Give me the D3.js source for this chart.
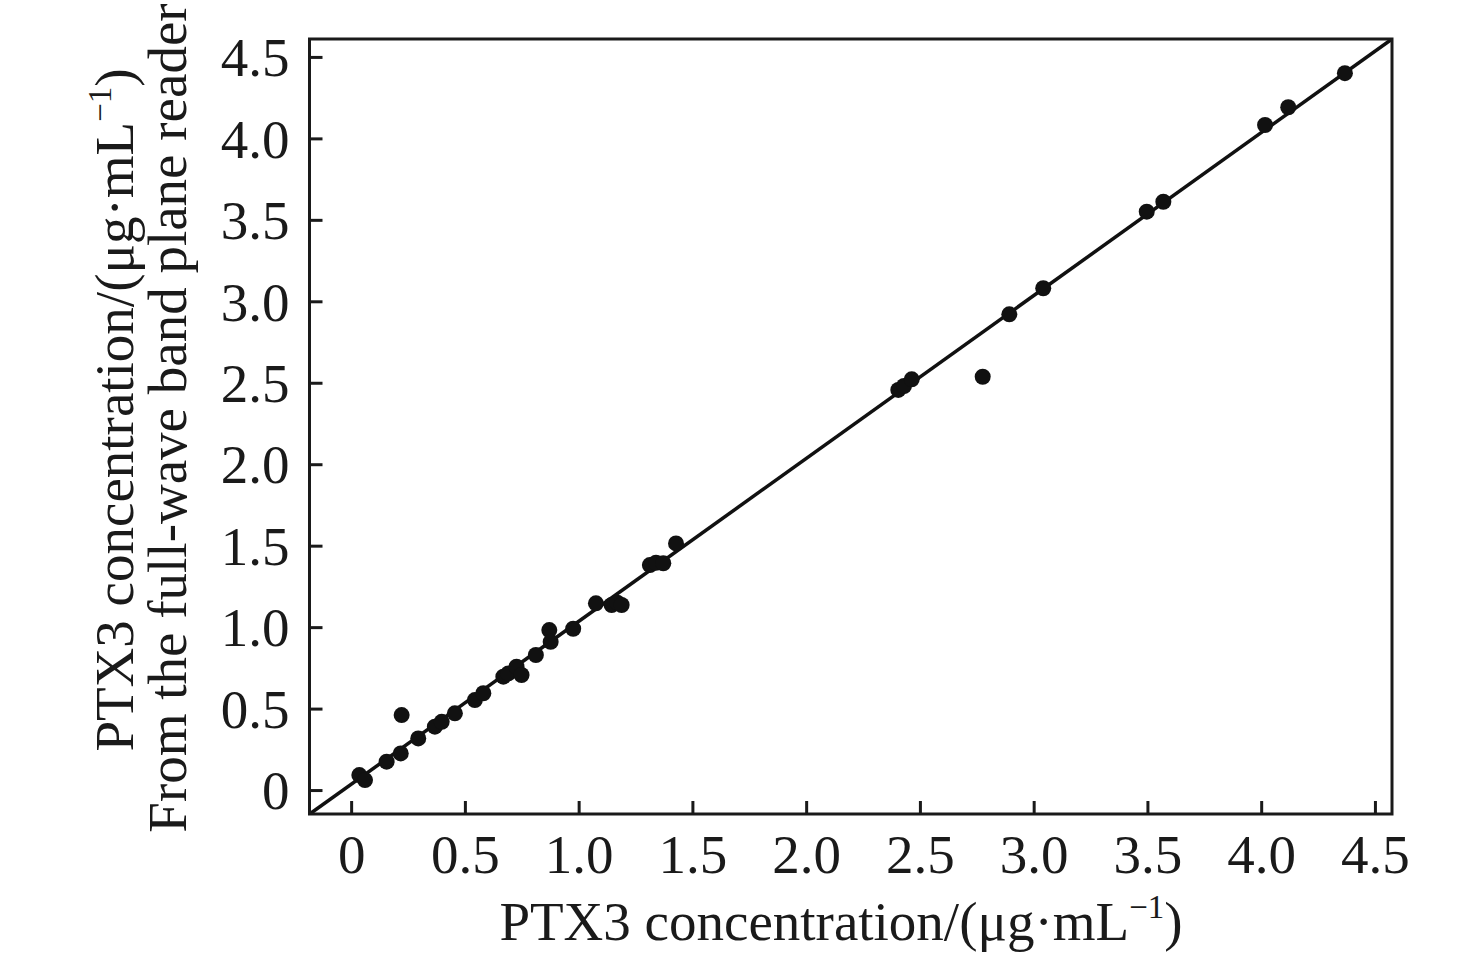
<!DOCTYPE html>
<html>
<head>
<meta charset="utf-8">
<script src="https://cdn.jsdelivr.net/npm/d3@7/dist/d3.min.js"></script>
<style>
  html, body { margin: 0; padding: 0; background: #fff; }
  svg { display: block; }
  text { font-family: "Liberation Serif", "Times New Roman", Times, serif; fill: #1a1a1a; }
</style>
</head>
<body>
<svg id="chart" width="1476" height="955"></svg>
<script>
// ---- data ----
const xValues = [0.036, 0.061, 0.156, 0.218, 0.222, 0.295, 0.368, 0.398, 0.456, 0.544,
                 0.581, 0.669, 0.691, 0.727, 0.749, 0.812, 0.871, 0.877, 0.976, 1.076,
                 1.145, 1.170, 1.189, 1.313, 1.340, 1.372, 1.428, 2.405, 2.430, 2.464,
                 2.776, 2.893, 3.042, 3.497, 3.570, 4.017, 4.119, 4.368];
const yValues = [0.092, 0.061, 0.174, 0.225, 0.460, 0.317, 0.389, 0.419, 0.471, 0.552,
                 0.594, 0.696, 0.716, 0.757, 0.706, 0.829, 0.982, 0.910, 0.990, 1.146,
                 1.136, 1.150, 1.136, 1.381, 1.395, 1.392, 1.514, 2.456, 2.480, 2.521,
                 2.537, 2.920, 3.080, 3.550, 3.611, 4.082, 4.191, 4.400];
const xTicks = [0, 0.5, 1.0, 1.5, 2.0, 2.5, 3.0, 3.5, 4.0, 4.5];
const yTicks = [0, 0.5, 1.0, 1.5, 2.0, 2.5, 3.0, 3.5, 4.0, 4.5];
const xTickLabels = ["0", "0.5", "1.0", "1.5", "2.0", "2.5", "3.0", "3.5", "4.0", "4.5"];
const yTickLabels = ["0", "0.5", "1.0", "1.5", "2.0", "2.5", "3.0", "3.5", "4.0", "4.5"];
const fitSlope = 1.0;
const fitIntercept = 0.035;
const xDomain = [-0.183, 4.575];
const yDomain = [-0.147, 4.610];

// ---- layout ----
const svg = d3.select("#chart");
const L = 309.5, R = 1392, T = 39, B = 814;
const x = d3.scaleLinear().domain(xDomain).range([L, R]);
const y = d3.scaleLinear().domain(yDomain).range([B, T]);
const FS = 55;

svg.append("defs").append("clipPath").attr("id", "plotclip")
  .append("rect").attr("x", L).attr("y", T).attr("width", R - L).attr("height", B - T);

// fit line
const lineData = xDomain.map(v => [v, fitSlope * v + fitIntercept]);
svg.append("path")
  .attr("clip-path", "url(#plotclip)")
  .attr("d", d3.line().x(d => x(d[0])).y(d => y(d[1]))(lineData))
  .attr("fill", "none").attr("stroke", "#111").attr("stroke-width", 3.5);

// points
svg.append("g").selectAll("circle")
  .data(xValues.map((v, i) => [v, yValues[i]]))
  .join("circle")
  .attr("cx", d => x(d[0])).attr("cy", d => y(d[1]))
  .attr("r", 8).attr("fill", "#111");

// axes
const xAxis = d3.axisBottom(x).tickValues(xTicks)
  .tickFormat((d, i) => xTickLabels[i]).tickSizeInner(-13).tickSizeOuter(0).tickPadding(20);
const gx = svg.append("g").attr("transform", `translate(0,${B})`).call(xAxis);
const yAxis = d3.axisLeft(y).tickValues(yTicks)
  .tickFormat((d, i) => yTickLabels[i]).tickSizeInner(-13).tickSizeOuter(0).tickPadding(20);
const gy = svg.append("g").attr("transform", `translate(${L},0)`).call(yAxis);
[gx, gy].forEach(g => {
  g.select(".domain").remove();
  g.selectAll(".tick line").attr("stroke", "#1a1a1a").attr("stroke-width", 3);
  g.selectAll(".tick text").attr("font-size", FS).attr("fill", "#1a1a1a")
    .style("font-family", '"Liberation Serif", "Times New Roman", serif');
});
gy.selectAll(".tick text").attr("dy", "0.34em");

// frame
svg.append("rect").attr("x", L).attr("y", T).attr("width", R - L).attr("height", B - T)
  .attr("fill", "none").attr("stroke", "#1a1a1a").attr("stroke-width", 3);

// x title
const xt = svg.append("text").attr("x", 841).attr("y", 940)
  .attr("text-anchor", "middle").attr("font-size", FS);
xt.append("tspan").text("PTX3 concentration/(μg·mL");
xt.append("tspan").attr("font-size", FS * 0.6).attr("dy", -FS * 0.4).text("−1");
xt.append("tspan").attr("dy", FS * 0.4).text(")");

// y title (two lines)
const yt1 = svg.append("text")
  .attr("transform", "translate(133,410) rotate(-90)")
  .attr("text-anchor", "middle").attr("font-size", FS);
yt1.append("tspan").text("PTX3 concentration/(μg·mL");
yt1.append("tspan").attr("font-size", FS * 0.6).attr("dy", -FS * 0.4).text("−1");
yt1.append("tspan").attr("dy", FS * 0.4).text(")");

svg.append("text")
  .attr("transform", "translate(186,418) rotate(-90)")
  .attr("text-anchor", "middle").attr("font-size", FS)
  .text("From the full-wave band plane reader");
</script>
</body>
</html>
